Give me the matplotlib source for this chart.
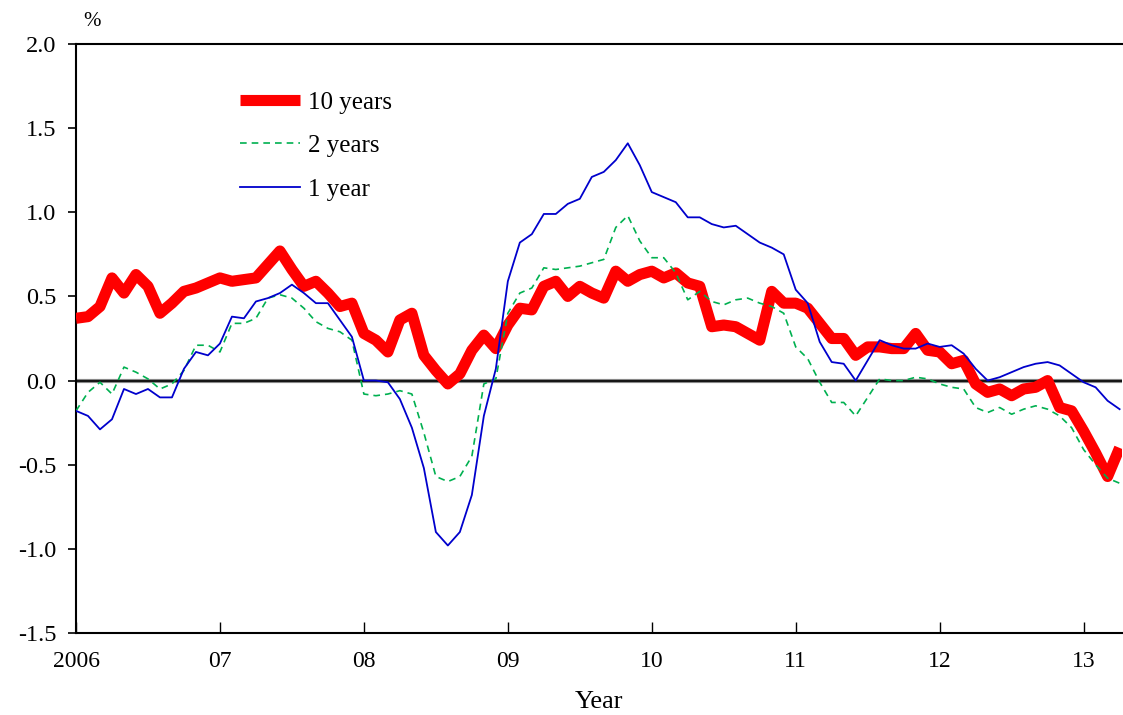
import matplotlib
matplotlib.use("Agg")
import matplotlib.pyplot as plt
import numpy as np

plt.rcParams['font.family'] = ['Liberation Serif', 'DejaVu Serif']
plt.rcParams['axes.unicode_minus'] = False

# Monthly spreads, Jan 2006 .. Apr 2013 (%)
ten_year = [0.37, 0.38, 0.44, 0.61, 0.52, 0.63, 0.56, 0.40, 0.46, 0.53, 0.55, 0.58,
            0.61, 0.59, 0.60, 0.61, 0.69, 0.77, 0.66, 0.56, 0.59, 0.52, 0.44, 0.46,
            0.28, 0.24, 0.17, 0.36, 0.40, 0.15, 0.06, -0.02, 0.04, 0.18, 0.27, 0.19,
            0.33, 0.43, 0.42, 0.56, 0.59, 0.50, 0.56, 0.52, 0.49, 0.65, 0.59, 0.63,
            0.65, 0.61, 0.64, 0.58, 0.56, 0.32, 0.33, 0.32, 0.28, 0.24, 0.53, 0.46,
            0.46, 0.43, 0.34, 0.25, 0.25, 0.15, 0.20, 0.20, 0.19, 0.19, 0.28, 0.18,
            0.17, 0.10, 0.12, -0.02, -0.07, -0.05, -0.09, -0.05, -0.04, 0.00, -0.16, -0.18,
            -0.30, -0.43, -0.57, -0.40]
two_year = [-0.18, -0.07, -0.01, -0.08, 0.08, 0.05, 0.01, -0.05, -0.02, 0.06, 0.21, 0.21,
            0.17, 0.34, 0.34, 0.37, 0.49, 0.51, 0.49, 0.43, 0.35, 0.31, 0.29, 0.24,
            -0.08, -0.09, -0.08, -0.06, -0.08, -0.31, -0.57, -0.60, -0.57, -0.45, -0.02, 0.01,
            0.40, 0.52, 0.55, 0.67, 0.66, 0.67, 0.68, 0.70, 0.72, 0.91, 0.98, 0.83,
            0.73, 0.73, 0.64, 0.48, 0.53, 0.47, 0.45, 0.48, 0.49, 0.46, 0.44, 0.40,
            0.20, 0.13, -0.01, -0.13, -0.13, -0.21, -0.10, 0.01, 0.00, 0.00, 0.02, 0.01,
            -0.02, -0.04, -0.05, -0.16, -0.19, -0.16, -0.20, -0.17, -0.15, -0.17, -0.21, -0.28,
            -0.41, -0.50, -0.58, -0.61]
one_year = [-0.18, -0.21, -0.29, -0.23, -0.05, -0.08, -0.05, -0.10, -0.10, 0.07, 0.17, 0.15,
            0.22, 0.38, 0.37, 0.47, 0.49, 0.52, 0.57, 0.52, 0.46, 0.46, 0.36, 0.26,
            0.00, 0.00, -0.01, -0.11, -0.28, -0.52, -0.90, -0.98, -0.90, -0.68, -0.21, 0.07,
            0.59, 0.82, 0.87, 0.99, 0.99, 1.05, 1.08, 1.21, 1.24, 1.31, 1.41, 1.28,
            1.12, 1.09, 1.06, 0.97, 0.97, 0.93, 0.91, 0.92, 0.87, 0.82, 0.79, 0.75,
            0.54, 0.46, 0.23, 0.11, 0.10, 0.00, 0.12, 0.24, 0.21, 0.19, 0.19, 0.22,
            0.20, 0.21, 0.16, 0.07, 0.00, 0.02, 0.05, 0.08, 0.10, 0.11, 0.09, 0.04,
            -0.01, -0.04, -0.12, -0.17]
year_labels = ['2006', '07', '08', '09', '10', '11', '12', '13']
y_ticks = [-1.5, -1.0, -0.5, 0.0, 0.5, 1.0, 1.5, 2.0]

months = np.arange(len(ten_year))

fig = plt.figure(figsize=(11.23, 7.15), dpi=100)
ax = fig.add_axes([76/1123, 1 - 633/715, (1122 - 76)/1123, (633 - 44)/715])

ax.axhline(0, color='#888888', lw=3.0, zorder=1)
ax.axhline(0, color='black', lw=1.2, zorder=1.1)

ax.plot(months, ten_year, color='#FF0000', lw=8, solid_joinstyle='round',
        solid_capstyle='butt', label='10 years', zorder=3)
ax.plot(months, two_year, color='#00B050', lw=1.2, ls=(0, (4, 3)),
        label='2 years', zorder=4)
ax.plot(months, one_year, color='#0000CC', lw=1.3, label='1 year', zorder=5)

ax.set_xlim(0, 87.2)
ax.set_ylim(-1.5, 2.0)
ax.set_yticks(y_ticks)
ax.set_yticklabels([f'{v:.1f}' for v in y_ticks])
ax.set_xticks(np.arange(len(year_labels)) * 12)
ax.set_xticklabels(year_labels)

ax.tick_params(axis='y', direction='out', length=6, width=1.2, pad=8, labelsize=17.5)
ax.tick_params(axis='x', direction='in', length=8, width=1.0, pad=13, labelsize=17)

for s in ['left', 'bottom', 'top']:
    ax.spines[s].set_linewidth(1.5)
    ax.spines[s].set_color('black')
ax.spines['right'].set_visible(False)

ax.set_xlabel('Year', fontsize=19, labelpad=14)
fig.text(92/1123, 1 - 22/715, '%', fontsize=15, ha='center', va='center')

leg = ax.legend(loc='upper left', bbox_to_anchor=(0.157, 0.92), frameon=False,
                fontsize=18, handlelength=2.4, handletextpad=0.3,
                labelspacing=0.84, borderpad=0, borderaxespad=0)

fig.savefig('out.png', dpi=100)
